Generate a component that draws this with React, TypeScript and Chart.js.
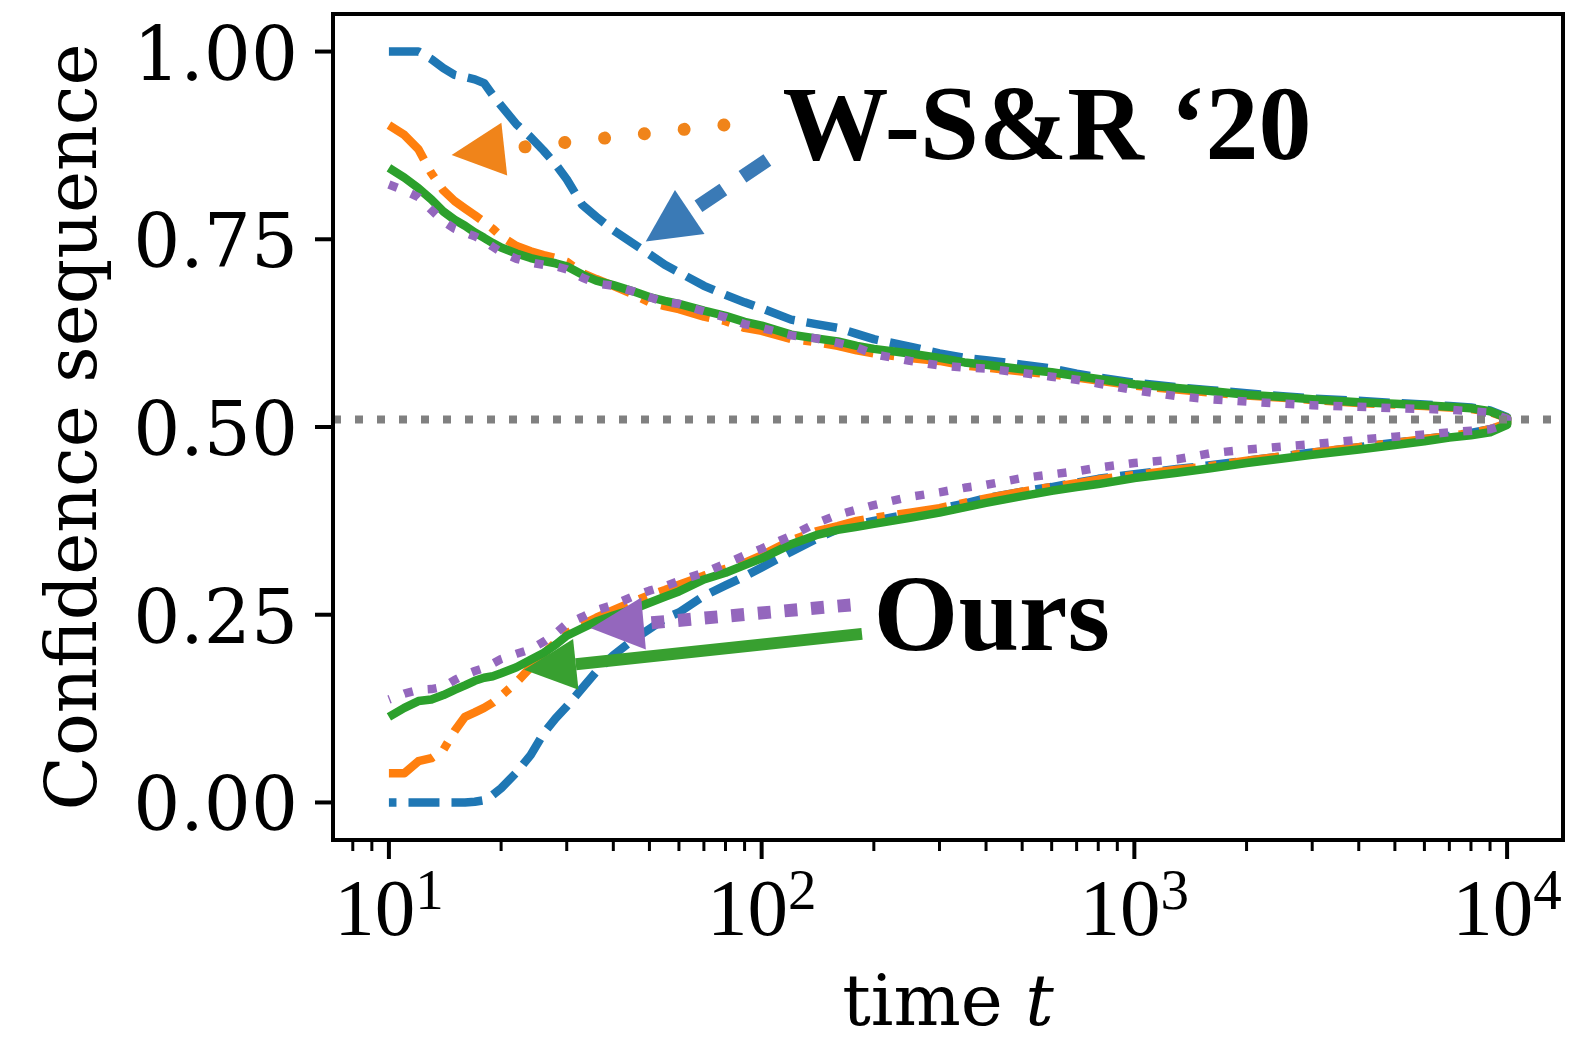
import { useEffect, useRef } from "react";
import { Chart, registerables } from "chart.js";

Chart.register(...registerables);

// Time grid shared by every bound
const timeSteps = [
  10, 11, 12, 13, 14, 15, 16, 17, 18, 19, 20, 22, 24, 26, 28, 30, 33, 36, 40, 45, 50, 55, 60,
  70, 80, 90, 100, 120, 140, 160, 180, 200, 250, 300, 350, 400, 500, 600, 700, 800, 1000, 1300,
  1600, 2000, 2500, 3000, 4000, 5000, 6000, 7000, 8000, 9000, 10000,
];

// W-S&R '20 (dashed blue)
const blueUpper = [
  1.0, 1.0, 1.0, 0.99, 0.978, 0.969, 0.966, 0.963, 0.958, 0.942, 0.928, 0.903, 0.886, 0.868, 0.85,
  0.83, 0.796, 0.78, 0.762, 0.745, 0.73, 0.716, 0.706, 0.688, 0.676, 0.666, 0.658, 0.643, 0.637,
  0.632, 0.624, 0.617, 0.607, 0.598, 0.592, 0.589, 0.583, 0.578, 0.571, 0.566, 0.559, 0.553, 0.549,
  0.545, 0.541, 0.538, 0.535, 0.532, 0.53, 0.528, 0.526, 0.522, 0.513,
];
const blueLower = [
  0, 0, 0, 0, 0, 0, 0, 0.001, 0.003, 0.01, 0.019, 0.04, 0.063, 0.092, 0.112, 0.128, 0.152, 0.174,
  0.196, 0.216, 0.231, 0.245, 0.253, 0.275, 0.289, 0.301, 0.313, 0.334, 0.351, 0.364, 0.37, 0.375,
  0.384, 0.391, 0.398, 0.405, 0.414, 0.42, 0.426, 0.431, 0.437, 0.444, 0.449, 0.455, 0.461, 0.466,
  0.473, 0.479, 0.484, 0.488, 0.492, 0.497, 0.505,
];

// W-S&R '20 (dash-dot orange)
const orangeUpper = [
  0.902, 0.889, 0.87, 0.838, 0.815, 0.801, 0.791, 0.782, 0.773, 0.764, 0.754, 0.741, 0.734, 0.729,
  0.725, 0.72, 0.705, 0.697, 0.688, 0.677, 0.666, 0.661, 0.657, 0.647, 0.641, 0.632, 0.628, 0.617,
  0.613, 0.608, 0.602, 0.598, 0.592, 0.588, 0.582, 0.579, 0.574, 0.57, 0.566, 0.562, 0.555, 0.55,
  0.546, 0.542, 0.539, 0.536, 0.532, 0.53, 0.528, 0.526, 0.524, 0.52, 0.512,
];
const orangeLower = [
  0.039, 0.039, 0.055, 0.059, 0.07, 0.095, 0.114, 0.12, 0.126, 0.133, 0.142, 0.16, 0.18, 0.198,
  0.213, 0.225, 0.237, 0.246, 0.256, 0.267, 0.276, 0.283, 0.29, 0.302, 0.311, 0.319, 0.329, 0.349,
  0.361, 0.368, 0.375, 0.379, 0.386, 0.392, 0.399, 0.405, 0.414, 0.42, 0.425, 0.43, 0.436, 0.443,
  0.448, 0.455, 0.461, 0.466, 0.473, 0.479, 0.484, 0.488, 0.492, 0.497, 0.505,
];

// Ours (solid green)
const greenUpper = [
  0.845, 0.832, 0.818, 0.803, 0.787, 0.776, 0.768, 0.759, 0.752, 0.745, 0.739, 0.731, 0.725, 0.721,
  0.718, 0.714, 0.703, 0.695, 0.689, 0.681, 0.673, 0.668, 0.664, 0.655, 0.648, 0.64, 0.635, 0.623,
  0.618, 0.614, 0.608, 0.604, 0.598, 0.592, 0.586, 0.583, 0.577, 0.573, 0.568, 0.564, 0.557, 0.552,
  0.548, 0.543, 0.54, 0.537, 0.533, 0.531, 0.529, 0.527, 0.525, 0.521, 0.512,
];
const greenLower = [
  0.114, 0.126, 0.135, 0.137, 0.143, 0.15, 0.156, 0.162, 0.166, 0.168, 0.172, 0.18, 0.19, 0.199,
  0.21, 0.222, 0.232, 0.241, 0.249, 0.257, 0.266, 0.274, 0.281, 0.297, 0.306, 0.316, 0.325, 0.344,
  0.356, 0.363, 0.367, 0.371, 0.379, 0.386, 0.393, 0.399, 0.408, 0.415, 0.42, 0.424, 0.432, 0.439,
  0.445, 0.452, 0.458, 0.463, 0.47, 0.476, 0.481, 0.486, 0.489, 0.493, 0.503,
];

// Ours (dotted purple)
const purpleUpper = [
  0.823, 0.815, 0.806, 0.789, 0.774, 0.764, 0.759, 0.754, 0.748, 0.74, 0.733, 0.724, 0.719, 0.716,
  0.714, 0.71, 0.699, 0.691, 0.688, 0.681, 0.673, 0.666, 0.664, 0.654, 0.646, 0.637, 0.632, 0.622,
  0.618, 0.612, 0.606, 0.597, 0.588, 0.582, 0.579, 0.578, 0.572, 0.567, 0.563, 0.558, 0.549, 0.541,
  0.537, 0.534, 0.531, 0.529, 0.527, 0.525, 0.524, 0.523, 0.521, 0.519, 0.511,
];
const purpleLower = [
  0.137, 0.145, 0.15, 0.151, 0.154, 0.163, 0.17, 0.175, 0.179, 0.185, 0.191, 0.198, 0.204, 0.214,
  0.225, 0.238, 0.247, 0.256, 0.263, 0.274, 0.282, 0.288, 0.295, 0.306, 0.318, 0.329, 0.338, 0.355,
  0.372, 0.383, 0.39, 0.396, 0.407, 0.413, 0.419, 0.423, 0.432, 0.437, 0.441, 0.446, 0.452, 0.457,
  0.465, 0.47, 0.474, 0.477, 0.483, 0.487, 0.49, 0.493, 0.495, 0.497, 0.504,
];

const trueMean = 0.51;

// Axes
const xMin = Math.pow(10, 0.85);
const xMax = Math.pow(10, 4.15);
const yMin = -0.05;
const yMax = 1.05;
const xMajorTicks = [10, 100, 1000, 10000];
const xMajorExponents = ["1", "2", "3", "4"];
const xMinorTicks = [
  8, 9, 20, 30, 40, 50, 60, 70, 80, 90, 200, 300, 400, 500, 600, 700, 800, 900, 2000, 3000, 4000,
  5000, 6000, 7000, 8000, 9000,
];
const yTickValues = [0, 0.25, 0.5, 0.75, 1.0];
const yTickLabels = ["0.00", "0.25", "0.50", "0.75", "1.00"];
const xTitle = "time ";
const xTitleItalic = "t";
const yTitle = "Confidence sequence";

// Callouts: [tailT, tailValue, tipT, tipValue]
const arrowWSR_orange = [79.2, 0.9022, 14.73, 0.8623];
const arrowWSR_blue = [103.6, 0.8556, 48.87, 0.7469];
const arrowOurs_purple = [173.2, 0.263, 34.8, 0.232];
const arrowOurs_green = [185.9, 0.2245, 23.05, 0.1766];
const wsrLabel = "W-S&R \u201820";
const wsrAnchor = [113.8, 0.857];
const oursLabel = "Ours";
const oursAnchor = [199.7, 0.2032];

const COLORS = {
  blue: "#1f77b4",
  orange: "#ff7f0e",
  green: "#2ca02c",
  purple: "#9467bd",
  gray: "#808080",
};

function outline(upper: number[], lower: number[]) {
  const pts = timeSteps.map((t, i) => ({ x: t, y: upper[i] }));
  for (let i = timeSteps.length - 1; i >= 0; i--) pts.push({ x: timeSteps[i], y: lower[i] });
  return pts;
}

type ArrowStyle = {
  color: string;
  width: number;
  dash: number[];
  cap: CanvasLineCap;
  headLength: number;
  headWidth: number;
};

function drawArrow(chart: any, spec: number[], style: ArrowStyle) {
  const ctx: CanvasRenderingContext2D = chart.ctx;
  const xs = chart.scales.x;
  const ys = chart.scales.y;
  const tail = { x: xs.getPixelForValue(spec[0]), y: ys.getPixelForValue(spec[1]) };
  const tip = { x: xs.getPixelForValue(spec[2]), y: ys.getPixelForValue(spec[3]) };
  const dx = tip.x - tail.x;
  const dy = tip.y - tail.y;
  const len = Math.hypot(dx, dy);
  const ux = dx / len;
  const uy = dy / len;
  const bx = tip.x - ux * style.headLength;
  const by = tip.y - uy * style.headLength;
  ctx.save();
  ctx.strokeStyle = style.color;
  ctx.lineWidth = style.width;
  ctx.lineCap = style.cap;
  ctx.setLineDash(style.dash);
  ctx.beginPath();
  ctx.moveTo(tail.x, tail.y);
  ctx.lineTo(bx, by);
  ctx.stroke();
  ctx.setLineDash([]);
  const nx = -uy;
  const ny = ux;
  const hw = style.headWidth / 2;
  ctx.fillStyle = style.color;
  ctx.beginPath();
  ctx.moveTo(tip.x, tip.y);
  ctx.lineTo(bx + nx * hw, by + ny * hw);
  ctx.lineTo(bx - nx * hw, by - ny * hw);
  ctx.closePath();
  ctx.fill();
  ctx.restore();
}

const decorations = {
  id: "decorations",
  afterDatasetsDraw(chart: any) {
    const ctx: CanvasRenderingContext2D = chart.ctx;
    const xs = chart.scales.x;
    const ys = chart.scales.y;

    drawArrow(chart, arrowWSR_orange, {
      color: "#f0841a", width: 13, dash: [0.01, 40], cap: "round", headLength: 53, headWidth: 53,
    });
    drawArrow(chart, arrowWSR_blue, {
      color: "#3a7ab6", width: 14, dash: [30, 23], cap: "butt", headLength: 53, headWidth: 53,
    });
    drawArrow(chart, arrowOurs_purple, {
      color: "#9467bd", width: 13, dash: [13, 13.7], cap: "butt", headLength: 53, headWidth: 52,
    });
    drawArrow(chart, arrowOurs_green, {
      color: "#38a030", width: 12, dash: [], cap: "butt", headLength: 52, headWidth: 51,
    });

    ctx.save();
    ctx.fillStyle = "#000";
    ctx.textBaseline = "alphabetic";
    ctx.textAlign = "left";
    ctx.font = "bold 106px 'Liberation Serif', serif";
    ctx.fillText(wsrLabel, xs.getPixelForValue(wsrAnchor[0]), ys.getPixelForValue(wsrAnchor[1]));
    ctx.font = "bold 109px 'Liberation Serif', serif";
    ctx.fillText(oursLabel, xs.getPixelForValue(oursAnchor[0]), ys.getPixelForValue(oursAnchor[1]));
    ctx.restore();
  },
  afterDraw(chart: any) {
    const ctx: CanvasRenderingContext2D = chart.ctx;
    const area = chart.chartArea;
    const xs = chart.scales.x;
    const ys = chart.scales.y;
    ctx.save();
    ctx.strokeStyle = "#000";
    ctx.fillStyle = "#000";

    // frame
    ctx.lineWidth = 4;
    ctx.strokeRect(area.left, area.top, area.right - area.left, area.bottom - area.top);

    // x ticks
    for (const tick of xs.ticks) {
      const px = xs.getPixelForValue(tick.value);
      const major = xMajorTicks.includes(tick.value);
      ctx.lineWidth = major ? 4 : 3;
      ctx.beginPath();
      ctx.moveTo(px, area.bottom);
      ctx.lineTo(px, area.bottom + (major ? 19 : 11));
      ctx.stroke();
    }
    // y ticks
    ctx.lineWidth = 4;
    for (const tick of ys.ticks) {
      const py = ys.getPixelForValue(tick.value);
      ctx.beginPath();
      ctx.moveTo(area.left, py);
      ctx.lineTo(area.left - 18, py);
      ctx.stroke();
    }

    // y tick labels
    ctx.font = "74px 'DejaVu Serif', serif";
    ctx.textAlign = "right";
    ctx.textBaseline = "alphabetic";
    yTickValues.forEach((v, i) => {
      ctx.fillText(yTickLabels[i], area.left - 35, ys.getPixelForValue(v) + 28);
    });

    // x tick labels: 10 with a raised exponent
    ctx.textAlign = "left";
    xMajorTicks.forEach((v, i) => {
      const px = xs.getPixelForValue(v);
      ctx.font = "81px 'Liberation Serif', serif";
      const wBase = ctx.measureText("10").width;
      ctx.font = "57px 'Liberation Serif', serif";
      const wExp = ctx.measureText(xMajorExponents[i]).width;
      const start = px - (wBase + wExp) / 2;
      ctx.font = "81px 'Liberation Serif', serif";
      ctx.fillText("10", start, area.bottom + 95);
      ctx.font = "57px 'Liberation Serif', serif";
      ctx.fillText(xMajorExponents[i], start + wBase, area.bottom + 69);
    });

    // x title
    ctx.font = "71px 'DejaVu Serif', serif";
    const w1 = ctx.measureText(xTitle).width;
    ctx.font = "italic 71px 'DejaVu Serif', serif";
    const w2 = ctx.measureText(xTitleItalic).width;
    const cx = (area.left + area.right) / 2;
    const sx = cx - (w1 + w2) / 2;
    ctx.font = "71px 'DejaVu Serif', serif";
    ctx.fillText(xTitle, sx, 1025);
    ctx.font = "italic 71px 'DejaVu Serif', serif";
    ctx.fillText(xTitleItalic, sx + w1, 1025);

    // y title
    ctx.translate(96, (area.top + area.bottom) / 2);
    ctx.rotate(-Math.PI / 2);
    ctx.font = "71px 'DejaVu Serif', serif";
    ctx.textAlign = "center";
    ctx.fillText(yTitle, 0, 0);
    ctx.restore();
  },
};

export default function App() {
  const ref = useRef<HTMLCanvasElement>(null);

  useEffect(() => {
    const canvas = ref.current;
    if (!canvas) return;
    const base = { pointRadius: 0, borderJoinStyle: "round" as const, tension: 0, showLine: true, fill: false };
    const chart = new Chart(canvas, {
      type: "scatter",
      data: {
        datasets: [
          { ...base, label: "blue", data: outline(blueUpper, blueLower), borderColor: COLORS.blue, borderWidth: 8.5, borderDash: [31, 12], order: 5 },
          { ...base, label: "orange", data: outline(orangeUpper, orangeLower), borderColor: COLORS.orange, borderWidth: 8.5, borderDash: [50, 13, 8, 13], order: 4 },
          { ...base, label: "green", data: outline(greenUpper, greenLower), borderColor: COLORS.green, borderWidth: 8.5, order: 3 },
          { ...base, label: "purple", data: outline(purpleUpper, purpleLower), borderColor: COLORS.purple, borderWidth: 8.5, borderDash: [9, 15], order: 2 },
          { ...base, label: "mean", data: [{ x: xMin, y: trueMean }, { x: xMax, y: trueMean }], borderColor: COLORS.gray, borderWidth: 8, borderDash: [8, 14], order: 1, clip: 0 },
        ] as any,
      },
      options: {
        responsive: false,
        animation: false,
        events: [],
        layout: { padding: { top: 14, right: 20, left: 0, bottom: 0 } },
        plugins: { legend: { display: false }, tooltip: { enabled: false } },
        scales: {
          x: {
            type: "logarithmic",
            min: xMin,
            max: xMax,
            bounds: "data",
            ticks: { display: false },
            grid: { display: false },
            border: { display: false },
            afterBuildTicks: (s: any) => {
              s.ticks = [...xMinorTicks, ...xMajorTicks]
                .sort((a, b) => a - b)
                .map((v) => ({ value: v, major: xMajorTicks.includes(v) }));
            },
            afterFit: (s: any) => {
              s.height = 197;
            },
          },
          y: {
            type: "linear",
            min: yMin,
            max: yMax,
            ticks: { display: false },
            grid: { display: false },
            border: { display: false },
            afterBuildTicks: (s: any) => {
              s.ticks = yTickValues.map((v) => ({ value: v }));
            },
            afterFit: (s: any) => {
              s.width = 333;
            },
          },
        } as any,
      },
      plugins: [decorations],
    });
    return () => chart.destroy();
  }, []);

  return (
    <div style={{ position: "absolute", left: 0, top: 0, width: 1583, height: 1037, background: "#fff" }}>
      <canvas ref={ref} width={1583} height={1037} style={{ display: "block", width: 1583, height: 1037 }} />
    </div>
  );
}
